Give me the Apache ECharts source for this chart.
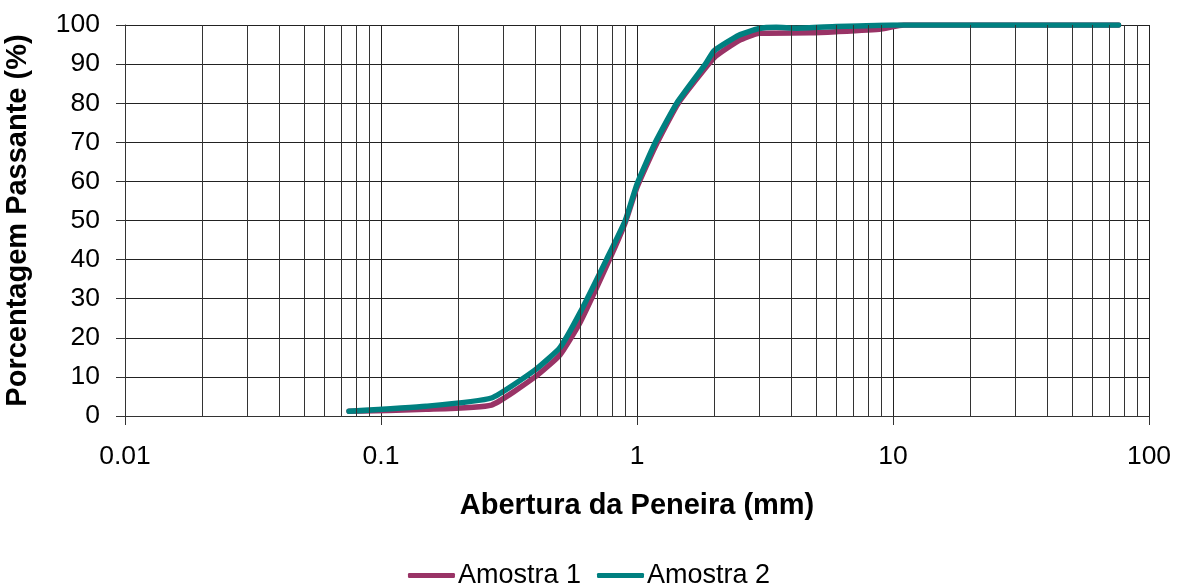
<!DOCTYPE html>
<html>
<head>
<meta charset="utf-8">
<script src="https://cdn.jsdelivr.net/npm/echarts@6/dist/echarts.min.js"></script>
<style>
html,body{margin:0;padding:0;background:#fff;}
#chart{width:1178px;height:583px;}
</style>
</head>
<body>
<div id="chart"></div>
<script>
// ---- data ----
var seriesNames = ['Amostra 1', 'Amostra 2'];
var sizes1 = [0.075, 0.15, 0.27, 0.4, 0.5, 0.6, 0.78, 0.9, 1.0, 1.18, 1.45, 2.0, 2.5, 3.0, 4.75, 6.0, 9.0, 11.0, 19.0, 76.0];
var pass1  = [1.2,   1.7,  2.8,  10,  15.6, 24,  40,   49.5, 58.5, 69,  80,   91.6, 96,  97.9, 98,   98.3, 99,  100,  100,  100];
var sizes2 = [0.075, 0.15, 0.27, 0.4, 0.5, 0.6, 0.76, 0.9, 1.0, 1.18, 1.43, 1.85, 2.0, 2.5, 3.0, 3.5, 4.2, 6.0, 10.0, 19.0, 76.0];
var pass2  = [1.2,   2.5,  4.6,  11.8, 17.5, 26.5, 40, 50,  59.3, 70,  80,   90,   93.4, 97.4, 99.1, 99.4, 99.2, 99.6, 100, 100, 100];
var xTickValues = [0.01, 0.1, 1, 10, 100];
var xTickLabels = ['0.01', '0.1', '1', '10', '100'];
var minorGrid = [0.02,0.03,0.04,0.05,0.06,0.07,0.08,0.09,
                 0.2,0.3,0.4,0.5,0.6,0.7,0.8,0.9,
                 2,3,4,5,6,7,8,9,
                 20,30,40,50,60,70,80,90];
var colors = ['#993366', '#008080'];

function pairs(xs, ys){ var o=[]; for(var i=0;i<xs.length;i++) o.push([xs[i], ys[i]]); return o; }

var FONT = '"Liberation Sans", Arial, sans-serif';
var chart = echarts.init(document.getElementById('chart'), null, {renderer:'canvas'});
chart.setOption({
  animation: false,
  backgroundColor: '#fff',
  textStyle: {fontFamily: FONT, color: '#000'},
  grid: {left: 125, right: 29, top: 25, bottom: 167, containLabel: false, outerBoundsMode: 'none'},
  legend: {
    data: seriesNames,
    left: 'center', top: 557,
    itemWidth: 47, itemHeight: 5, itemGap: 16,
    icon: 'roundRect',
    textStyle: {fontFamily: FONT, fontSize: 27, color: '#000', padding: [0,0,0,-2]}
  },
  xAxis: {
    type: 'log', logBase: 10, min: 0.01, max: 100,
    name: 'Abertura da Peneira (mm)', nameLocation: 'middle', nameGap: 75,
    nameTextStyle: {fontFamily: FONT, fontSize: 29, fontWeight: 'bold', color: '#000'},
    axisLine: {show: true, lineStyle: {color: '#333', width: 1}},
    axisTick: {show: true, length: 9, lineStyle: {color: '#333'}},
    axisLabel: {fontFamily: FONT, fontSize: 26.5, color: '#000', margin: 27,
      formatter: function(v){ var i = -1; for (var k=0;k<xTickValues.length;k++){ if (Math.abs(Math.log10(v)-Math.log10(xTickValues[k]))<1e-6) i=k; } return i>=0 ? xTickLabels[i] : ''; }},
    splitLine: {show: true, lineStyle: {color: '#222', width: 1}}
  },
  yAxis: {
    type: 'value', min: 0, max: 100, interval: 10,
    name: 'Porcentagem Passante (%)', nameLocation: 'middle', nameGap: 93,
    nameTextStyle: {fontFamily: FONT, fontSize: 29, fontWeight: 'bold', color: '#000'},
    axisLine: {show: true, lineStyle: {color: '#333', width: 1}},
    axisTick: {show: true, length: 9, lineStyle: {color: '#333'}},
    axisLabel: {fontFamily: FONT, fontSize: 26.5, color: '#000', margin: 25},
    splitLine: {show: true, lineStyle: {color: '#222', width: 1}}
  },
  series: [
    {
      name: 'minor-grid', type: 'line', data: [], z: 1, silent: true,
      markLine: {
        silent: true, symbol: ['none','none'], animation: false,
        label: {show: false},
        lineStyle: {color: '#333', width: 1, type: 'solid'},
        emphasis: {disabled: true},
        data: minorGrid.map(function(v){ return {xAxis: v}; })
      }
    },
    {
      name: seriesNames[0], type: 'line', z: 3,
      data: pairs(sizes1, pass1),
      smooth: 0.15, showSymbol: false, symbol: 'none',
      color: colors[0],
      lineStyle: {color: colors[0], width: 5.5, cap: 'round', join: 'round'}
    },
    {
      name: seriesNames[1], type: 'line', z: 4,
      data: pairs(sizes2, pass2),
      smooth: 0.15, showSymbol: false, symbol: 'none',
      color: colors[1],
      lineStyle: {color: colors[1], width: 5.5, cap: 'round', join: 'round'}
    }
  ]
});
</script>
</body>
</html>
